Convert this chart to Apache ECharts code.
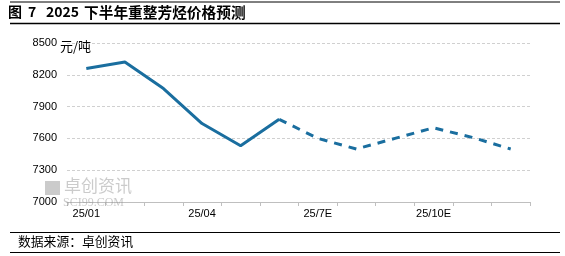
<!DOCTYPE html>
<html><head><meta charset="utf-8">
<script src="https://cdn.jsdelivr.net/npm/echarts@6/dist/echarts.min.js"></script>
<style>html,body{margin:0;padding:0;background:#fff}#c{width:565px;height:256px}</style>
</head><body><div id="c"></div>
<script>
const categories = ['25/01','25/02','25/03','25/04','25/05','25/06','25/7E','25/8E','25/9E','25/10E','25/11E','25/12E'];
const prices = [8260, 8320, 8070, 7740, 7530, 7780, 7600, 7500, 7600, 7700, 7610, 7500];
const lastActual = 5;
const yTicks = [7000, 7300, 7600, 7900, 8200, 8500];

const actual = prices.map((v, i) => i <= lastActual ? v : null);
const forecast = prices.map((v, i) => i >= lastActual ? v : null);
const lineColor = '#1a6e9f';
const wm = 'rgba(140,140,140,0.45)';
const chart = echarts.init(document.getElementById('c'), null, {renderer: 'canvas'});
chart.setOption({
  animation: false,
  grid: {left: 67, right: 35, top: 43, bottom: 54},
  xAxis: {
    type: 'category', data: categories, boundaryGap: true,
    axisLine: {lineStyle: {color: '#bfbfbf'}},
    axisTick: {show: true, interval: 0, length: 4, lineStyle: {color: '#bfbfbf'}},
    axisLabel: {interval: 2, color: '#000', fontSize: 11, fontFamily: 'Liberation Sans', margin: 6}
  },
  yAxis: {
    type: 'value', min: yTicks[0], max: yTicks[yTicks.length - 1], interval: 300,
    axisLine: {show: false}, axisTick: {show: false},
    splitLine: {lineStyle: {color: '#d0d0d0', type: [3, 2]}},
    axisLabel: {color: '#000', fontSize: 11, fontFamily: 'Liberation Sans', margin: 10, formatter: v => String(v)}
  },
  series: [
    {type: 'line', data: actual, symbol: 'none', lineStyle: {color: lineColor, width: 3}, z: 3},
    {type: 'line', data: forecast, symbol: 'none', lineStyle: {color: lineColor, width: 3, type: [8, 7]}, z: 3}
  ],
  graphic: [
    {type: 'line', shape: {x1: 10, y1: 2, x2: 560, y2: 2}, style: {stroke: '#000', lineWidth: 1}},
    {type: 'text', left: 8, top: 5, style: {text: '图', font: 'bold 14px "Noto Sans CJK SC"', fill: '#000'}},
    {type: 'text', left: 28, top: 5, style: {text: '7', font: 'bold 14px "Noto Sans CJK SC"', fill: '#000'}},
    {type: 'text', left: 46, top: 5, style: {text: '2025', font: 'bold 14px "Noto Sans CJK SC"', fill: '#000'}},
    {type: 'text', left: 84, top: 5, style: {text: '下半年重整芳烃价格预测', font: 'bold 14.7px "Noto Sans CJK SC"', fill: '#000'}},
    {type: 'line', shape: {x1: 10, y1: 23.5, x2: 560, y2: 23.5}, style: {stroke: '#000', lineWidth: 1.5}},
    {type: 'text', left: 60, top: 40, style: {text: '元/吨', font: '13px "Noto Sans CJK SC"', fill: '#000'}},
    {type: 'rect', shape: {x: 45, y: 181, width: 15, height: 14}, style: {fill: wm}, z: 1},
    {type: 'text', left: 64, top: 177, style: {text: '卓创资讯', font: '17px "Noto Sans CJK SC"', fill: wm}, z: 1},
    {type: 'text', left: 63, top: 197, style: {text: 'SCI99.COM', font: '12px "Liberation Serif"', fill: wm}, z: 1},
    {type: 'line', shape: {x1: 10, y1: 232.5, x2: 560, y2: 232.5}, style: {stroke: '#000', lineWidth: 1.2}},
    {type: 'text', left: 18, top: 235, style: {text: '数据来源：卓创资讯', font: '12.8px "Noto Sans CJK SC"', fill: '#000'}},
    {type: 'line', shape: {x1: 10, y1: 252.5, x2: 560, y2: 252.5}, style: {stroke: '#000', lineWidth: 1.2}}
  ]
});
</script></body></html>
